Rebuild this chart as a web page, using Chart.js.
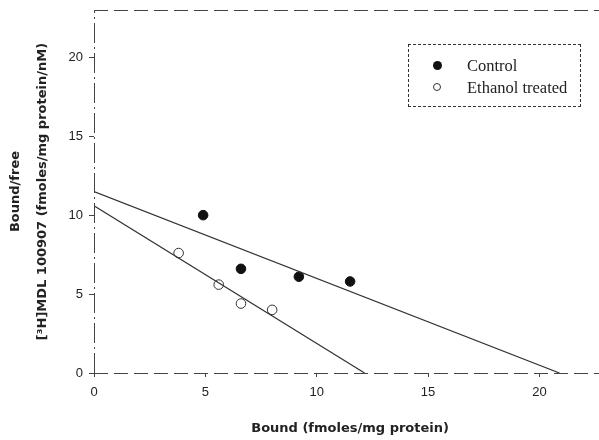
<!DOCTYPE html>
<html>
<head>
<meta charset="utf-8">
<script src="https://cdn.jsdelivr.net/npm/chart.js@4.4.1/dist/chart.umd.min.js"></script>
<style>
  html, body { margin: 0; padding: 0; background: #fff; overflow: hidden; }
  #wrap { position: relative; width: 599px; height: 440px; overflow: hidden; }
  #legend {
    position: absolute; left: 408px; top: 44px; width: 173px; height: 63px;
    border: 1px dashed #333; box-sizing: border-box;
    font-family: "Liberation Serif", serif; font-size: 16.5px; color: #222;
  }
  .row { position: absolute; left: 0; height: 20px; line-height: 20px; }
  .dot { position: absolute; left: 24px; top: 5px; width: 9px; height: 9px; border-radius: 50%; box-sizing: border-box; }
  .lbl { position: absolute; left: 58px; white-space: nowrap; }
</style>
</head>
<body>
<div id="wrap">
  <!-- the plot runs past the right edge in the original, so the canvas is a bit wider than the view -->
  <canvas id="scatchart" width="612" height="440"></canvas>
  <div id="legend">
    <div class="row" style="top:11px"><span class="dot" style="background:#111"></span><span class="lbl">Control</span></div>
    <div class="row" style="top:33px"><span class="dot" style="background:#fff;border:1px solid #333;width:8px;height:8px"></span><span class="lbl">Ethanol treated</span></div>
  </div>
</div>
<script>
// data
const controlX = [4.9, 6.6, 9.2, 11.5];
const controlY = [10.0, 6.6, 6.1, 5.8];
const ethanolX = [3.8, 5.6, 6.6, 8.0];
const ethanolY = [7.6, 5.6, 4.4, 4.0];
// regression line end points (intercepts)
const controlFitX = [0, 20.9];
const controlFitY = [11.5, 0];
const ethanolFitX = [0, 12.15];
const ethanolFitY = [10.6, 0];
const xTicks = [0, 5, 10, 15, 20];
const yTicks = [0, 5, 10, 15, 20];

const pts = (xs, ys) => xs.map((x, i) => ({ x: x, y: ys[i] }));

const tickFont = { family: 'Liberation Sans', size: 13 };
const titleFont = { family: 'DejaVu Sans', size: 13, weight: 'bold' };

// dashed frame lines (top, bottom, left) like the scanned figure
const dashedFrame = {
  id: 'dashedFrame',
  afterDraw(chart) {
    const { ctx, chartArea: a } = chart;
    ctx.save();
    ctx.strokeStyle = '#444';
    ctx.lineWidth = 1;
    ctx.setLineDash([14, 6]);
    ctx.beginPath();
    ctx.moveTo(a.left, a.top + 0.5);
    ctx.lineTo(chart.width, a.top + 0.5);
    ctx.moveTo(a.left, a.bottom + 0.5);
    ctx.lineTo(chart.width, a.bottom + 0.5);
    ctx.stroke();
    ctx.setLineDash([20, 4, 2, 4]);
    ctx.beginPath();
    ctx.moveTo(a.left + 0.5, a.bottom);
    ctx.lineTo(a.left + 0.5, a.top);
    ctx.stroke();
    ctx.restore();
  }
};

const noPad = s => { s.paddingLeft = 0; s.paddingRight = 0; s.paddingTop = 0; s.paddingBottom = 0; };

const ctx = document.getElementById('scatchart').getContext('2d');
new Chart(ctx, {
  type: 'scatter',
  data: {
    datasets: [
      {
        label: 'Control fit',
        type: 'line',
        data: pts(controlFitX, controlFitY),
        borderColor: '#333',
        borderWidth: 1.2,
        pointRadius: 0,
        fill: false
      },
      {
        label: 'Ethanol fit',
        type: 'line',
        data: pts(ethanolFitX, ethanolFitY),
        borderColor: '#333',
        borderWidth: 1.2,
        pointRadius: 0,
        fill: false
      },
      {
        label: 'Control',
        data: pts(controlX, controlY),
        backgroundColor: '#111',
        borderColor: '#111',
        pointRadius: 4.8
      },
      {
        label: 'Ethanol treated',
        data: pts(ethanolX, ethanolY),
        backgroundColor: '#fff',
        borderColor: '#333',
        borderWidth: 1,
        pointRadius: 4.8
      }
    ]
  },
  options: {
    responsive: false,
    animation: false,
    layout: { padding: 0 },
    plugins: { legend: { display: false }, tooltip: { enabled: false } },
    scales: {
      x: {
        type: 'linear',
        min: 0,
        max: 23,
        afterFit: s => { s.height = 67; noPad(s); },
        afterBuildTicks: s => { s.ticks = xTicks.map(v => ({ value: v })); },
        border: { display: false },
        grid: { drawOnChartArea: false, tickLength: 4, color: '#444' },
        ticks: { font: tickFont, color: '#222', padding: 8 },
        title: { display: true, text: 'Bound (fmoles/mg protein)', font: titleFont, color: '#222', padding: { top: 16 } }
      },
      x2: {
        type: 'linear',
        position: 'top',
        min: 0,
        max: 23,
        afterFit: s => { s.height = 10; noPad(s); },
        border: { display: false },
        grid: { display: false },
        ticks: { display: false }
      },
      y: {
        type: 'linear',
        min: 0,
        max: 23,
        afterFit: s => { s.width = 94; noPad(s); },
        afterBuildTicks: s => { s.ticks = yTicks.map(v => ({ value: v })); },
        border: { display: false },
        grid: { drawOnChartArea: false, tickLength: 5, color: '#444' },
        ticks: { font: tickFont, color: '#222', padding: 6 },
        title: {
          display: true,
          text: ['Bound/free', '[\u00B3H]MDL 100907 (fmoles/mg protein/nM)'],
          font: Object.assign({ lineHeight: 2.1 }, titleFont),
          color: '#222',
          padding: { top: 2, bottom: 0 }
        }
      }
    }
  },
  plugins: [dashedFrame]
});
</script>
</body>
</html>
